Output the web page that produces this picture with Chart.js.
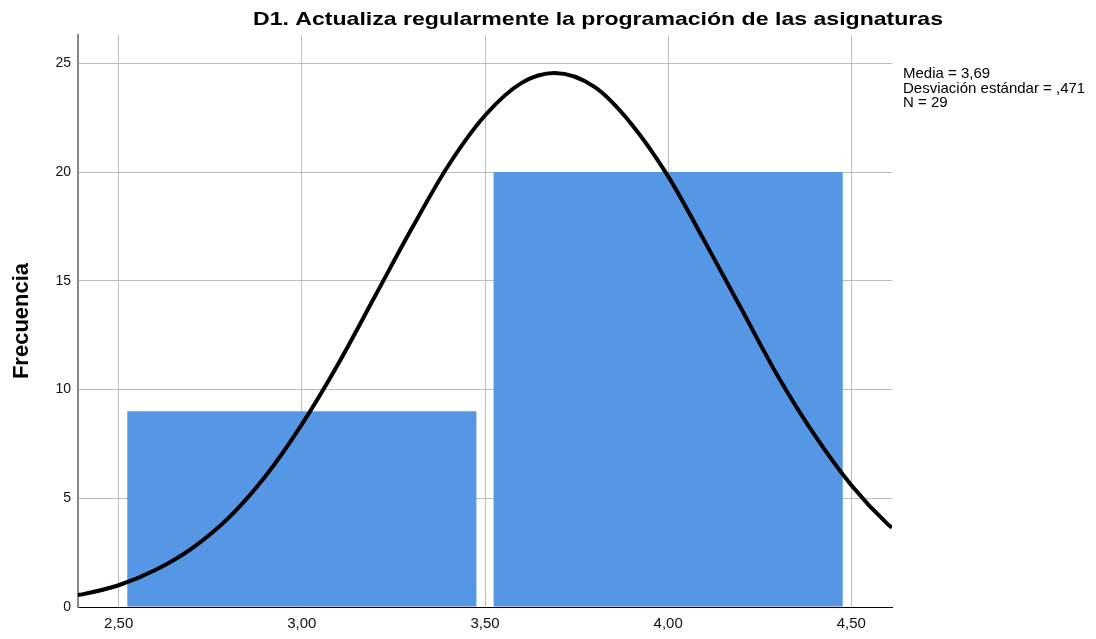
<!DOCTYPE html>
<html><head><meta charset="utf-8">
<script src="https://cdn.jsdelivr.net/npm/chart.js@4.4.0/dist/chart.umd.min.js"></script>
<style>html,body{margin:0;padding:0;background:#fff}canvas{display:block}</style>
</head><body>
<canvas id="c" width="1096" height="639"></canvas>
<script>
// ---- data ----
const chartTitle = 'D1. Actualiza regularmente la programación de las asignaturas';
const yAxisTitle = 'Frecuencia';
const binCenters = [3.0, 4.0];
const frequencies = [9, 20];
const curveX = [2.389, 2.4, 2.5, 2.6, 2.7, 2.8, 2.9, 3.0, 3.1, 3.2, 3.3, 3.4, 3.5, 3.6, 3.69, 3.8, 3.9, 4.0, 4.1, 4.2, 4.3, 4.4, 4.5, 4.6, 4.611];
const curveY = [0.55, 0.58, 1.0, 1.7, 2.7, 4.1, 6.0, 8.4, 11.2, 14.3, 17.4, 20.3, 22.6, 24.1, 24.55, 23.9, 22.2, 19.8, 16.8, 13.7, 10.6, 7.9, 5.6, 3.8, 3.65];
const xTickValues = [2.5, 3.0, 3.5, 4.0, 4.5];
const yTickValues = [0, 5, 10, 15, 20, 25];
const statsLines = ['Media = 3,69', 'Desviación estándar = ,471', 'N = 29'];

const FONT = '"Liberation Sans", Arial, sans-serif';
const fmt = v => v.toFixed(2).replace('.', ',');

const overlayText = {
  id: 'overlayText',
  afterDraw(chart) {
    const ctx = chart.ctx;
    ctx.save();
    ctx.fillStyle = '#000';
    ctx.font = 'bold 19px ' + FONT;
    ctx.textAlign = 'center';
    ctx.textBaseline = 'alphabetic';
    const w = ctx.measureText(chartTitle).width;
    const sx = 690 / w;
    ctx.translate(598, 24.5);
    ctx.scale(sx, 1);
    ctx.fillText(chartTitle, 0, 0);
    ctx.restore();
    ctx.save();
    ctx.fillStyle = '#000';
    ctx.font = '15px ' + FONT;
    ctx.textAlign = 'left';
    ctx.textBaseline = 'alphabetic';
    statsLines.forEach((t, i) => ctx.fillText(t, 903, 78 + i * 14.5));
    ctx.restore();
  }
};

new Chart(document.getElementById('c'), {
  data: {
    datasets: [
      {
        type: 'line',
        data: curveX.map((x, i) => ({ x, y: curveY[i] })),
        borderColor: '#000',
        borderWidth: 4,
        pointRadius: 0,
        tension: 0.4,
        cubicInterpolationMode: 'monotone',
        fill: false,
        order: 0,
        xAxisID: 'x',
        yAxisID: 'y'
      },
      {
        type: 'bar',
        data: binCenters.map((x, i) => ({ x, y: frequencies[i] })),
        backgroundColor: '#5596E5',
        borderWidth: 0,
        barPercentage: 0.953,
        categoryPercentage: 1,
        grouped: false,
        order: 1,
        xAxisID: 'xb',
        yAxisID: 'y'
      }
    ]
  },
  options: {
    responsive: false,
    animation: false,
    events: [],
    layout: { padding: { left: 0, top: 35, right: 204, bottom: 0 } },
    plugins: { legend: { display: false }, tooltip: { enabled: false }, title: { display: false } },
    scales: {
      x: {
        type: 'linear',
        position: 'bottom',
        offset: false,
        min: 2.389,
        max: 4.611,
        afterBuildTicks: s => { s.ticks = xTickValues.map(v => ({ value: v })); },
        afterFit: s => { s.height = 32; },
        grid: { color: '#bdbdbd', lineWidth: 1, drawTicks: false, offset: false },
        border: { color: '#000', width: 1 },
        ticks: { callback: v => fmt(v), color: '#111', font: { family: FONT, size: 15 }, padding: 8, maxRotation: 0, autoSkip: false }
      },
      xb: {
        type: 'linear',
        position: 'bottom',
        display: true,
        offset: false,
        min: 2.389,
        max: 4.611,
        afterBuildTicks: s => { s.ticks = binCenters.map(v => ({ value: v })); },
        afterFit: s => { s.height = 0; },
        grid: { display: false, drawTicks: false, offset: false },
        border: { display: false },
        ticks: { display: false }
      },
      y: {
        type: 'linear',
        min: 0,
        max: 26.3,
        afterBuildTicks: s => { s.ticks = yTickValues.map(v => ({ value: v })); },
        afterFit: s => { s.width = 78; },
        grid: { color: '#bdbdbd', lineWidth: 1, drawTicks: false },
        border: { color: '#888', width: 2 },
        ticks: { color: '#111', font: { family: FONT, size: 14 }, padding: 7 },
        title: { display: true, text: yAxisTitle, color: '#000', font: { family: FONT, size: 22, weight: 'bold' }, padding: { top: 9, bottom: 0 } }
      }
    }
  },
  plugins: [overlayText]
});
</script>
</body></html>
